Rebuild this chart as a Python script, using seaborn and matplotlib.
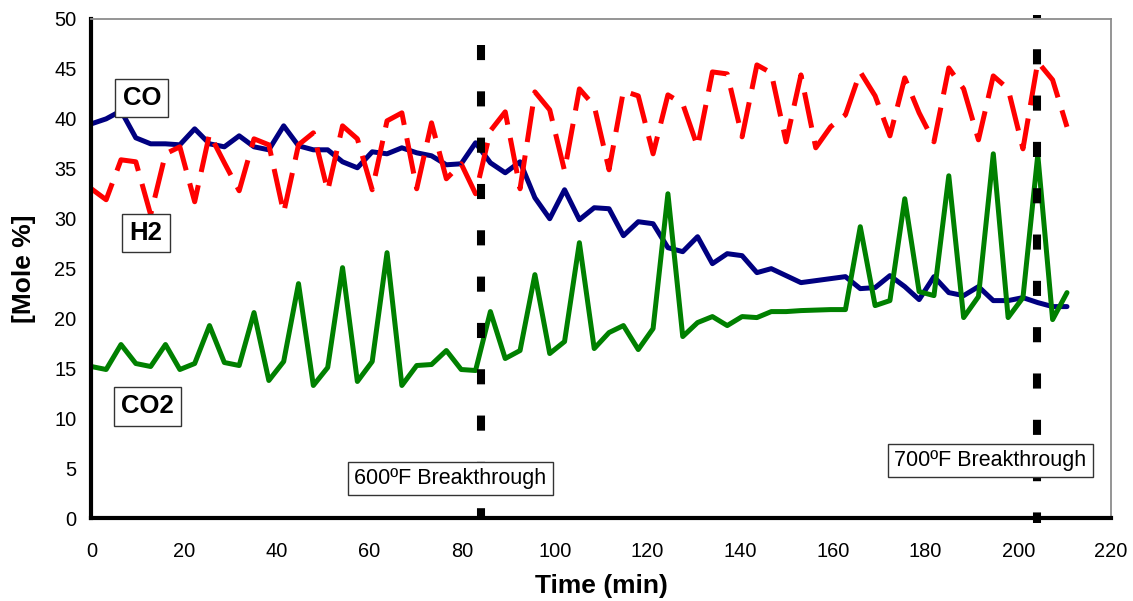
import matplotlib
matplotlib.use("Agg")
import matplotlib.pyplot as plt
import seaborn as sns
import pandas as pd

# Sampling times (min)
time_min = [0.0, 3.2, 6.4, 9.6, 12.8, 16.0, 19.1, 22.3, 25.5, 28.7, 31.9, 35.1,
            38.3, 41.5, 44.7, 47.9, 51.0, 54.2, 57.4, 60.6, 63.8, 67.0, 70.2, 73.4,
            76.6, 79.8, 82.9, 86.1, 89.3, 92.5, 95.7, 98.9, 102.1, 105.3, 108.5,
            111.7, 114.8, 118.0, 121.2, 124.4, 127.6, 130.8, 134.0, 137.2, 140.4,
            143.6, 146.7, 149.9, 153.1, 156.3, 159.5, 162.7, 165.9, 169.1, 172.3,
            175.5, 178.6, 181.8, 185.0, 188.2, 191.4, 194.6, 197.8, 201.0, 204.2,
            207.4, 210.5]

# Gas composition, mole %
co = [39.5, 40.0, 40.8, 38.1, 37.5, 37.5, 37.4, 39.0, 37.5, 37.2, 38.3, 37.2,
      36.9, 39.3, 37.3, 36.9, 36.9, 35.7, 35.1, 36.7, 36.5, 37.1, 36.6, 36.3,
      35.4, 35.5, 37.6, 35.6, 34.6, 35.7, 32.1, 30.0, 32.9, 29.9, 31.1, 31.0,
      28.3, 29.7, 29.5, 27.1, 26.7, 28.2, 25.5, 26.5, 26.3, 24.6, 25.0, 24.3,
      23.6, 23.8, 24.0, 24.2, 23.0, 23.1, 24.3, 23.2, 21.9, 24.2, 22.6, 22.3,
      23.2, 21.8, 21.8, 22.1, 21.6, 21.2, 21.2]

h2 = [33.0, 31.9, 35.9, 35.7, 30.4, 36.5, 37.2, 31.7, 38.5, 35.6, 32.8, 38.0,
      37.4, 30.6, 37.4, 38.6, 32.8, 39.3, 38.0, 32.9, 39.8, 40.6, 33.0, 39.6,
      34.0, 35.5, 32.5, 38.8, 40.7, 33.0, 42.7, 40.9, 34.8, 43.0, 41.3, 34.9,
      42.8, 42.3, 36.5, 42.4, 41.5, 37.2, 44.7, 44.5, 38.2, 45.4, 44.6, 37.7,
      44.4, 37.1, 39.2, 40.4, 44.7, 42.3, 38.3, 44.1, 40.6, 37.7, 45.1, 43.0,
      37.9, 44.3, 43.0, 37.0, 45.7, 43.9, 39.2]

co2 = [15.2, 14.9, 17.4, 15.5, 15.2, 17.4, 14.9, 15.5, 19.3, 15.6, 15.3, 20.6,
       13.8, 15.7, 23.5, 13.3, 15.1, 25.1, 13.7, 15.7, 26.6, 13.3, 15.3, 15.4,
       16.8, 14.9, 14.8, 20.7, 16.0, 16.8, 24.4, 16.5, 17.7, 27.6, 17.0, 18.6,
       19.3, 16.9, 19.0, 32.5, 18.2, 19.6, 20.2, 19.3, 20.2, 20.1, 20.7, 20.7,
       20.8, 20.85, 20.9, 20.9, 29.2, 21.3, 21.8, 32.0, 22.7, 22.3, 34.3, 20.1,
       22.2, 36.5, 20.1, 22.1, 36.4, 19.9, 22.6]

# Breakthrough markers (min) and their labels
breakthrough_t = [84.0, 204.0]
breakthrough_labels = ["600ºF Breakthrough", "700ºF Breakthrough"]

x_ticks = list(range(0, 221, 20))
y_ticks = list(range(0, 51, 5))

sns.set_style("white")
plt.rcParams["font.family"] = ["Liberation Sans", "DejaVu Sans"]
plt.rcParams["text.color"] = "black"
plt.rcParams["axes.labelcolor"] = "black"
plt.rcParams["xtick.color"] = "black"
plt.rcParams["ytick.color"] = "black"

df = pd.DataFrame({"time": time_min, "CO": co, "H2": h2, "CO2": co2})

fig = plt.figure(figsize=(11.33, 6.01), dpi=100)
ax = fig.add_axes([0.0806, 0.1376, 0.9000, 0.8308])

sns.lineplot(data=df, x="time", y="CO", color="#000080", linewidth=3.6,
             estimator=None, ax=ax)
sns.lineplot(data=df, x="time", y="H2", color="#ff0000", linewidth=3.6,
             estimator=None, ax=ax)
ax.lines[-1].set_dashes((7.2, 2.7))
ax.lines[-1].set_dash_capstyle("butt")
sns.lineplot(data=df, x="time", y="CO2", color="#008000", linewidth=3.6,
             estimator=None, ax=ax)

# Breakthrough markers
ax.plot([breakthrough_t[0]] * 2, [47.4, -0.2], color="black", linewidth=5.8,
        linestyle=(0, (1.875, 3.875)), solid_capstyle="butt", clip_on=False,
        zorder=5)
ax.plot([breakthrough_t[1]] * 2, [50.4, -0.5], color="black", linewidth=5.8,
        linestyle=(1.5, (1.875, 3.875)), solid_capstyle="butt", clip_on=False,
        zorder=5)

ax.set_xlim(0, 220)
ax.set_ylim(0, 50)
ax.set_xticks(x_ticks)
ax.set_yticks(y_ticks)

for side in ("left", "bottom"):
    ax.spines[side].set_color("black")
    ax.spines[side].set_linewidth(3.0)
for side in ("top", "right"):
    ax.spines[side].set_visible(True)
    ax.spines[side].set_color("#8c8c8c")
    ax.spines[side].set_linewidth(1.3)

ax.tick_params(axis="both", direction="inout", length=11.5, width=2.6,
               color="black", labelsize=14.4, labelcolor="black")
ax.tick_params(axis="x", pad=11.0)
ax.tick_params(axis="y", pad=5.0)

ax.set_xlabel("Time (min)", fontsize=19, fontweight="bold", color="black")
ax.set_ylabel("[Mole %]", fontsize=19, fontweight="bold", color="black")
ax.xaxis.set_label_coords(0.5, -0.112)
ax.yaxis.set_label_coords(-0.054, 0.5)

box = dict(boxstyle="square,pad=0.28", facecolor="white", edgecolor="#333333",
           linewidth=1.0)
ax.text(10.9, 42.1, "CO", fontsize=18.5, fontweight="bold", ha="center",
        va="center", bbox=box, zorder=6, color="black")
ax.text(11.8, 28.6, "H2", fontsize=18.5, fontweight="bold", ha="center",
        va="center", bbox=box, zorder=6, color="black")
ax.text(12.1, 11.2, "CO2", fontsize=18.5, fontweight="bold", ha="center",
        va="center", bbox=box, zorder=6, color="black")
ax.text(77.5, 4.0, breakthrough_labels[0], fontsize=15.5, ha="center",
        va="center", bbox=box, zorder=6, color="black")
ax.text(194.0, 5.8, breakthrough_labels[1], fontsize=15.5, ha="center",
        va="center", bbox=box, zorder=6, color="black")

fig.savefig("out.png", dpi=100)
